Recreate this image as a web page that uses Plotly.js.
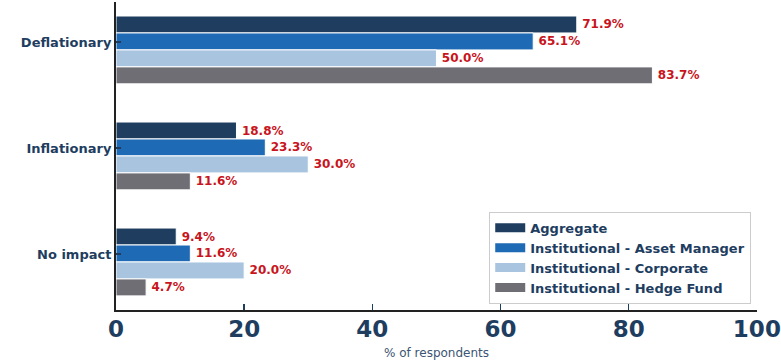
<!DOCTYPE html>
<html><head><meta charset="utf-8">
<script src="https://cdn.plot.ly/plotly-3.0.1.min.js"></script>
<style>html,body{margin:0;padding:0;background:#fff}</style>
</head><body>
<div id="chart" style="width:781px;height:360px"></div>
<script>
var categories = ["Deflationary", "Inflationary", "No impact"];
var seriesNames = ["Aggregate", "Institutional - Asset Manager", "Institutional - Corporate", "Institutional - Hedge Fund"];
var aggregate = [71.9, 18.8, 9.4];
var assetManager = [65.1, 23.3, 11.6];
var corporate = [50.0, 30.0, 20.0];
var hedgeFund = [83.7, 11.6, 4.7];
var xTicks = [0, 20, 40, 60, 80, 100];
var colors = ["#1e3d5f", "#1f6ab4", "#a9c4df", "#6f6e75"];

var seriesValues = [aggregate, assetManager, corporate, hedgeFund];
var font = "DejaVu Sans, Verdana, sans-serif";
var barW = 0.16;
var firstOffset = -0.245;
var traces = seriesValues.map(function(vals, i){
  return {
    type: "bar", orientation: "h",
    y: categories, x: vals, name: seriesNames[i],
    width: barW, offset: firstOffset + i * barW,
    marker: {color: colors[i], line: {color: "#ffffff", width: 1}},
    texttemplate: "\u2009%{x:.1f}%", textposition: "outside",
    textfont: {family: font, size: 12, color: "#c8141c", weight: "bold"},
    cliponaxis: false, hoverinfo: "skip", showlegend: false
  };
});
// legend entries drawn as wide swatches (no data points)
seriesNames.forEach(function(n, i){
  traces.push({
    type: "scatter", mode: "lines", x: [null], y: [null], name: n,
    line: {color: colors[i], width: 9}, hoverinfo: "skip", showlegend: true
  });
});

var layout = {
  width: 781, height: 360,
  margin: {l: 116, r: 24, t: 2, b: 50},
  paper_bgcolor: "#ffffff", plot_bgcolor: "#ffffff",
  barmode: "overlay",
  font: {family: font, color: "#1e3d5f"},
  xaxis: {
    range: [0, 100.02], tickvals: xTicks, ticktext: xTicks.map(String),
    showgrid: false, zeroline: false, showline: true, linecolor: "#222222", linewidth: 2,
    ticks: "inside", ticklen: 6, tickcolor: "#1e3d5f", tickwidth: 1.5,
    tickfont: {family: font, size: 23, color: "#1e3d5f", weight: "bold"},
    ticklabelstandoff: -3,
    title: {text: "% of respondents", font: {family: font, size: 12, color: "#3b5573"}, standoff: 8}
  },
  yaxis: {
    type: "category", categoryorder: "array", categoryarray: categories,
    range: [2.528, -0.377],
    showgrid: false, zeroline: false, showline: true, linecolor: "#222222", linewidth: 2,
    ticks: "inside", ticklen: 5, tickcolor: "#1e3d5f", tickwidth: 2,
    tickfont: {family: font, size: 13, color: "#1e3d5f", weight: "bold"}
  },
  legend: {
    x: 0.991, xanchor: "right", y: 0.02, yanchor: "bottom",
    bgcolor: "#ffffff", bordercolor: "#cccccc", borderwidth: 1,
    font: {family: font, size: 13, color: "#1e3d5f", weight: "bold"},
    traceorder: "normal", itemwidth: 30
  },
  showlegend: true
};

Plotly.newPlot("chart", traces, layout, {displayModeBar: false, staticPlot: true});
</script>
</body></html>
